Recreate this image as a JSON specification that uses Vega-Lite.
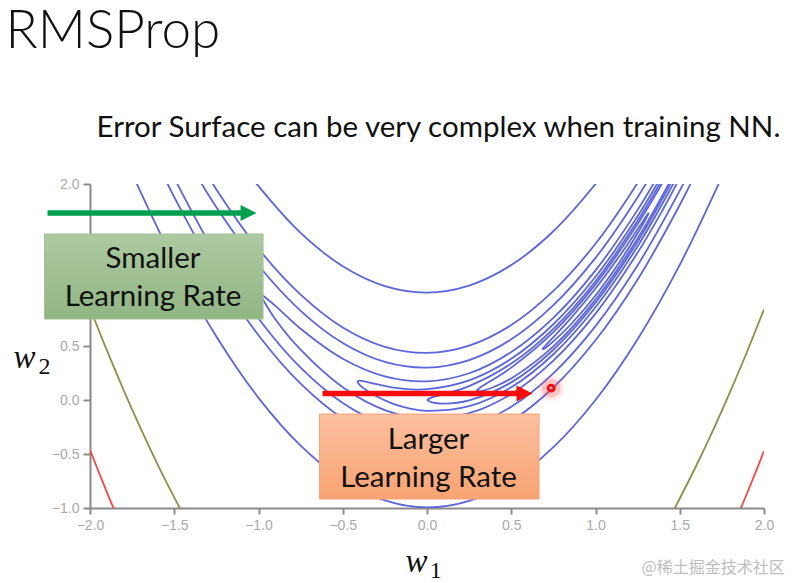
{
"$schema":"https://vega.github.io/schema/vega-lite/v6.json",
"width":674,
"height":324,
"autosize":{"type":"none"},
"padding":{"left":90,"right":33,"top":184,"bottom":75},
"background":"white",
"config":{"view":{"stroke":null}},
"layer":[
{
"data":{"values":[
{"level":100,"path":"100a","x":-1.8,"y":2.28},{"level":100,"path":"100a","x":-1.7,"y":1.927},{"level":100,"path":"100a","x":-1.5,"y":1.282},{"level":100,"path":"100a","x":-1.25,"y":0.588},{"level":100,"path":"100a","x":-1,"y":0.02},{"level":100,"path":"100a","x":-0.75,"y":-0.422},{"level":100,"path":"100a","x":-0.5,"y":-0.739},{"level":100,"path":"100a","x":-0.25,"y":-0.93},{"level":100,"path":"100a","x":0,"y":-0.995},{"level":100,"path":"100a","x":0.25,"y":-0.935},{"level":100,"path":"100a","x":0.5,"y":-0.749},{"level":100,"path":"100a","x":0.75,"y":-0.437},{"level":100,"path":"100a","x":1,"y":0},{"level":100,"path":"100a","x":1.25,"y":0.563},{"level":100,"path":"100a","x":1.5,"y":1.251},{"level":100,"path":"100a","x":1.75,"y":2.066},
{"level":100,"path":"100b","x":-1.1,"y":2.188},{"level":100,"path":"100b","x":-1,"y":1.98},{"level":100,"path":"100b","x":-0.75,"y":1.547},{"level":100,"path":"100b","x":-0.5,"y":1.239},{"level":100,"path":"100b","x":-0.25,"y":1.055},{"level":100,"path":"100b","x":0,"y":0.995},{"level":100,"path":"100b","x":0.25,"y":1.06},{"level":100,"path":"100b","x":0.5,"y":1.249},{"level":100,"path":"100b","x":0.75,"y":1.5625},{"level":100,"path":"100b","x":1,"y":2},{"level":100,"path":"100b","x":1.1,"y":2.21},
{"level":20,"path":"20a","x":-1.6,"y":2.196},{"level":20,"path":"20a","x":-1.5,"y":1.879},{"level":20,"path":"20a","x":-1.25,"y":1.176},{"level":20,"path":"20a","x":-1,"y":0.6},{"level":20,"path":"20a","x":-0.75,"y":0.151},{"level":20,"path":"20a","x":-0.5,"y":-0.171},{"level":20,"path":"20a","x":-0.25,"y":-0.367},{"level":20,"path":"20a","x":0,"y":-0.436},{"level":20,"path":"20a","x":0.25,"y":-0.378},{"level":20,"path":"20a","x":0.5,"y":-0.194},{"level":20,"path":"20a","x":0.75,"y":0.116},{"level":20,"path":"20a","x":1,"y":0.553},{"level":20,"path":"20a","x":1.25,"y":1.116},{"level":20,"path":"20a","x":1.5,"y":1.806},{"level":20,"path":"20a","x":1.6,"y":2.117},
{"level":20,"path":"20b","x":-1.4,"y":2.337},{"level":20,"path":"20b","x":-1.25,"y":1.95},{"level":20,"path":"20b","x":-1,"y":1.4},{"level":20,"path":"20b","x":-0.75,"y":0.975},{"level":20,"path":"20b","x":-0.5,"y":0.671},{"level":20,"path":"20b","x":-0.25,"y":0.492},{"level":20,"path":"20b","x":0,"y":0.436},{"level":20,"path":"20b","x":0.25,"y":0.504},{"level":20,"path":"20b","x":0.5,"y":0.694},{"level":20,"path":"20b","x":0.75,"y":1.01},{"level":20,"path":"20b","x":1,"y":1.447},{"level":20,"path":"20b","x":1.25,"y":2.01},{"level":20,"path":"20b","x":1.4,"y":2.405},
{"level":10,"path":"10a","x":-1.6,"y":2.38},{"level":10,"path":"10a","x":-1.5,"y":2.056},{"level":10,"path":"10a","x":-1.25,"y":1.34},{"level":10,"path":"10a","x":-1,"y":0.755},{"level":10,"path":"10a","x":-0.75,"y":0.299},{"level":10,"path":"10a","x":-0.5,"y":-0.028},{"level":10,"path":"10a","x":-0.25,"y":-0.228},{"level":10,"path":"10a","x":0,"y":-0.3},{"level":10,"path":"10a","x":0.25,"y":-0.245},{"level":10,"path":"10a","x":0.5,"y":-0.062},{"level":10,"path":"10a","x":0.75,"y":0.247},{"level":10,"path":"10a","x":1,"y":0.684},{"level":10,"path":"10a","x":1.25,"y":1.247},{"level":10,"path":"10a","x":1.5,"y":1.938},{"level":10,"path":"10a","x":1.6,"y":2.25},
{"level":10,"path":"10b","x":-1.4,"y":2.166},{"level":10,"path":"10b","x":-1.25,"y":1.785},{"level":10,"path":"10b","x":-1,"y":1.245},{"level":10,"path":"10b","x":-0.75,"y":0.826},{"level":10,"path":"10b","x":-0.5,"y":0.528},{"level":10,"path":"10b","x":-0.25,"y":0.353},{"level":10,"path":"10b","x":0,"y":0.3},{"level":10,"path":"10b","x":0.25,"y":0.37},{"level":10,"path":"10b","x":0.5,"y":0.562},{"level":10,"path":"10b","x":0.75,"y":0.878},{"level":10,"path":"10b","x":1,"y":1.316},{"level":10,"path":"10b","x":1.25,"y":1.878},{"level":10,"path":"10b","x":1.4,"y":2.274},
{"level":4,"path":"4b","x":1.38,"y":2.1},{"level":4,"path":"4b","x":1.25,"y":1.7605},{"level":4,"path":"4b","x":1,"y":1.2},{"level":4,"path":"4b","x":0.75,"y":0.7605},{"level":4,"path":"4b","x":0.5,"y":0.444},{"level":4,"path":"4b","x":0.25,"y":0.2475},{"level":4,"path":"4b","x":0,"y":0.173},{"level":4,"path":"4b","x":-0.25,"y":0.2185},{"level":4,"path":"4b","x":-0.5,"y":0.382},{"level":4,"path":"4b","x":-0.75,"y":0.6595},{"level":4,"path":"4b","x":-0.9,"y":0.872},{"level":4,"path":"4b","x":-1,"y":1},
{"level":4,"path":"4a","x":-1,"y":1},{"level":4,"path":"4a","x":-0.9,"y":0.748},{"level":4,"path":"4a","x":-0.75,"y":0.4655},{"level":4,"path":"4a","x":-0.5,"y":0.118},{"level":4,"path":"4a","x":-0.25,"y":-0.0935},{"level":4,"path":"4a","x":0,"y":-0.173},{"level":4,"path":"4a","x":0.25,"y":-0.1225},{"level":4,"path":"4a","x":0.5,"y":0.056},{"level":4,"path":"4a","x":0.75,"y":0.3645},{"level":4,"path":"4a","x":1,"y":0.8},{"level":4,"path":"4a","x":1.25,"y":1.3645},{"level":4,"path":"4a","x":1.4,"y":1.764},{"level":4,"path":"4a","x":1.5,"y":2.056},
{"level":2,"path":"2b","x":1.4,"y":2.096},{"level":2,"path":"2b","x":1.25,"y":1.7015},{"level":2,"path":"2b","x":1,"y":1.141},{"level":2,"path":"2b","x":0.75,"y":0.7015},{"level":2,"path":"2b","x":0.5,"y":0.382},{"level":2,"path":"2b","x":0.25,"y":0.1825},{"level":2,"path":"2b","x":0,"y":0.1},{"level":2,"path":"2b","x":-0.1,"y":0.099},{"level":2,"path":"2b","x":-0.2,"y":0.115},{"level":2,"path":"2b","x":-0.3,"y":0.146},{"level":2,"path":"2b","x":-0.4,"y":0.18},{"level":2,"path":"2b","x":-0.414,"y":0.1716},
{"level":2,"path":"2a","x":-0.414,"y":0.1716},{"level":2,"path":"2a","x":-0.4,"y":0.14},{"level":2,"path":"2a","x":-0.3,"y":0.034},{"level":2,"path":"2a","x":-0.2,"y":-0.035},{"level":2,"path":"2a","x":-0.1,"y":-0.079},{"level":2,"path":"2a","x":0,"y":-0.1},{"level":2,"path":"2a","x":0.25,"y":-0.0575},{"level":2,"path":"2a","x":0.5,"y":0.118},{"level":2,"path":"2a","x":0.75,"y":0.4235},{"level":2,"path":"2a","x":1,"y":0.859},{"level":2,"path":"2a","x":1.25,"y":1.4235},{"level":2,"path":"2a","x":1.45,"y":1.9685},{"level":2,"path":"2a","x":1.5,"y":2.118},
{"level":1,"path":"1b","x":1.45,"y":2.19},{"level":1,"path":"1b","x":1.4,"y":2.052},{"level":1,"path":"1b","x":1.25,"y":1.6595},{"level":1,"path":"1b","x":1,"y":1.1},{"level":1,"path":"1b","x":0.75,"y":0.6595},{"level":1,"path":"1b","x":0.5,"y":0.337},{"level":1,"path":"1b","x":0.25,"y":0.1285},{"level":1,"path":"1b","x":0.1,"y":0.054},{"level":1,"path":"1b","x":0.03,"y":0.0249},{"level":1,"path":"1b","x":0,"y":0},
{"level":1,"path":"1a","x":0,"y":0},{"level":1,"path":"1a","x":0.03,"y":-0.023},{"level":1,"path":"1a","x":0.1,"y":-0.034},{"level":1,"path":"1a","x":0.25,"y":-0.0035},{"level":1,"path":"1a","x":0.5,"y":0.163},{"level":1,"path":"1a","x":0.75,"y":0.4655},{"level":1,"path":"1a","x":1,"y":0.9},{"level":1,"path":"1a","x":1.25,"y":1.4655},{"level":1,"path":"1a","x":1.45,"y":2.0135},
{"level":0.5,"path":"0.5b","x":1.45,"y":2.1575},{"level":0.5,"path":"0.5b","x":1.4,"y":2.018},{"level":0.5,"path":"0.5b","x":1.25,"y":1.6285},{"level":0.5,"path":"0.5b","x":1,"y":1.071},{"level":0.5,"path":"0.5b","x":0.75,"y":0.6285},{"level":0.5,"path":"0.5b","x":0.5,"y":0.3},{"level":0.5,"path":"0.5b","x":0.4,"y":0.197},{"level":0.5,"path":"0.5b","x":0.32,"y":0.121},{"level":0.5,"path":"0.5b","x":0.293,"y":0.0858},
{"level":0.5,"path":"0.5a","x":0.293,"y":0.0858},{"level":0.5,"path":"0.5a","x":0.32,"y":0.083},{"level":0.5,"path":"0.5a","x":0.4,"y":0.123},{"level":0.5,"path":"0.5a","x":0.5,"y":0.2},{"level":0.5,"path":"0.5a","x":0.75,"y":0.4965},{"level":0.5,"path":"0.5a","x":1,"y":0.929},{"level":0.5,"path":"0.5a","x":1.25,"y":1.4965},{"level":0.5,"path":"0.5a","x":1.4,"y":1.902},{"level":0.5,"path":"0.5a","x":1.45,"y":2.0475},
{"level":0.1,"path":"0.1b","x":0.684,"y":0.468},{"level":0.1,"path":"0.1b","x":0.7,"y":0.5},{"level":0.1,"path":"0.1b","x":0.75,"y":0.5815},{"level":0.1,"path":"0.1b","x":0.85,"y":0.7505},{"level":0.1,"path":"0.1b","x":1,"y":1.032},{"level":0.1,"path":"0.1b","x":1.15,"y":1.3505},{"level":0.1,"path":"0.1b","x":1.25,"y":1.5815},{"level":0.1,"path":"0.1b","x":1.3,"y":1.7},{"level":0.1,"path":"0.1b","x":1.316,"y":1.732},
{"level":0.1,"path":"0.1a","x":1.316,"y":1.732},{"level":0.1,"path":"0.1a","x":1.3,"y":1.68},{"level":0.1,"path":"0.1a","x":1.25,"y":1.5435},{"level":0.1,"path":"0.1a","x":1.15,"y":1.2945},{"level":0.1,"path":"0.1a","x":1,"y":0.968},{"level":0.1,"path":"0.1a","x":0.85,"y":0.6945},{"level":0.1,"path":"0.1a","x":0.75,"y":0.5435},{"level":0.1,"path":"0.1a","x":0.7,"y":0.48},{"level":0.1,"path":"0.1a","x":0.684,"y":0.468},
{"level":1000,"path":"1000a","x":-2,"y":0.852},{"level":1000,"path":"1000a","x":-1.9,"y":0.461},{"level":1000,"path":"1000a","x":-1.8,"y":0.09},{"level":1000,"path":"1000a","x":-1.7,"y":-0.261},{"level":1000,"path":"1000a","x":-1.6,"y":-0.593},{"level":1000,"path":"1000a","x":-1.5,"y":-0.902},{"level":1000,"path":"1000a","x":-1.45,"y":-1.05},
{"level":1000,"path":"1000b","x":1.45,"y":-1.06},{"level":1000,"path":"1000b","x":1.5,"y":-0.912},{"level":1000,"path":"1000b","x":1.6,"y":-0.602},{"level":1000,"path":"1000b","x":1.7,"y":-0.272},{"level":1000,"path":"1000b","x":1.8,"y":0.079},{"level":1000,"path":"1000b","x":1.9,"y":0.449},{"level":1000,"path":"1000b","x":2,"y":0.839},
{"level":2000,"path":"2000a","x":-2,"y":-0.462},{"level":2000,"path":"2000a","x":-1.95,"y":-0.66},{"level":2000,"path":"2000a","x":-1.9,"y":-0.853},{"level":2000,"path":"2000a","x":-1.85,"y":-1.04},
{"level":2000,"path":"2000b","x":1.85,"y":-1.049},{"level":2000,"path":"2000b","x":1.9,"y":-0.861},{"level":2000,"path":"2000b","x":1.95,"y":-0.67},{"level":2000,"path":"2000b","x":2,"y":-0.472}
]},
"mark":{"type":"line","clip":true,"strokeWidth":1.8,"interpolate":"catmull-rom"},
"encoding":{
"x":{"field":"x","type":"quantitative","scale":{"domain":[-2,2],"nice":false,"zero":false},
"axis":{"title":null,"values":[-2,-1.5,-1,-0.5,0,0.5,1,1.5,2],"format":".1f","grid":false,"domainColor":"#8a8a8a","domainWidth":2,"tickColor":"#8a8a8a","tickWidth":2,"tickSize":6,"labelColor":"#a9a9a9","labelFontSize":14,"labelFont":"Liberation Sans","labelPadding":4,"labelFlush":false}},
"y":{"field":"y","type":"quantitative","scale":{"domain":[-1,2],"nice":false,"zero":false},
"axis":{"title":null,"values":[-1,-0.5,0,0.5,2],"format":".1f","grid":false,"domainColor":"#8a8a8a","domainWidth":2,"tickColor":"#8a8a8a","tickWidth":2,"tickSize":7,"labelColor":"#a9a9a9","labelFontSize":14,"labelFont":"Liberation Sans","labelPadding":4}},
"detail":{"field":"path"},
"color":{"field":"level","type":"quantitative","legend":null,"scale":{"type":"threshold","domain":[500,1500],"range":["#5c66da","#8f8f48","#ef4a42"]}}
}
},
{
"data":{"values":[{"x":-2.27,"x2":-0.973,"y":1.537,"y2":0.75}]},
"mark":{"type":"rect","stroke":"#a3bf94","strokeWidth":1,"fill":{"gradient":"linear","x1":0,"y1":0,"x2":0,"y2":1,"stops":[{"offset":0,"color":"#aecaa2"},{"offset":1,"color":"#90b583"}]}},
"encoding":{"x":{"field":"x","type":"quantitative"},"x2":{"field":"x2"},"y":{"field":"y","type":"quantitative"},"y2":{"field":"y2"}}
},
{
"data":{"values":[{"x":-0.638,"x2":0.665,"y":-0.13,"y2":-0.917}]},
"mark":{"type":"rect","stroke":"#f3a67c","strokeWidth":1,"fill":{"gradient":"linear","x1":0,"y1":0,"x2":0,"y2":1,"stops":[{"offset":0,"color":"#fbbf9f"},{"offset":1,"color":"#f9a372"}]}},
"encoding":{"x":{"field":"x","type":"quantitative"},"x2":{"field":"x2"},"y":{"field":"y","type":"quantitative"},"y2":{"field":"y2"}}
},
{
"data":{"values":[{"arrow":"green","x":-2.252,"x2":-1.08,"y":1.731},{"arrow":"red","x":-0.62,"x2":0.56,"y":0.06}]},
"mark":{"type":"rule","strokeWidth":5.5},
"encoding":{"x":{"field":"x","type":"quantitative"},"x2":{"field":"x2"},"y":{"field":"y","type":"quantitative"},
"color":{"field":"arrow","type":"nominal","legend":null,"scale":{"domain":["green","red"],"range":["#00a050","#fa0c0c"]}}}
},
{
"data":{"values":[{"arrow":"green","x":-1.059,"y":1.731},{"arrow":"red","x":0.579,"y":0.06}]},
"mark":{"type":"point","filled":true,"opacity":1,"shape":"M-1,-1L1,0L-1,1Z","size":256},
"encoding":{"x":{"field":"x","type":"quantitative"},"y":{"field":"y","type":"quantitative"},
"color":{"field":"arrow","type":"nominal","legend":null,"scale":{"domain":["green","red"],"range":["#00a050","#fa0c0c"]}}}
},
{
"data":{"name":"marker","values":[{"x":0.737,"y":0.11}]},
"mark":{"type":"circle","size":640,"color":"#ff5050","opacity":0.12},
"encoding":{"x":{"field":"x","type":"quantitative"},"y":{"field":"y","type":"quantitative"}}
},
{
"data":{"name":"marker"},
"mark":{"type":"circle","size":360,"color":"#ff5050","opacity":0.25},
"encoding":{"x":{"field":"x","type":"quantitative"},"y":{"field":"y","type":"quantitative"}}
},
{
"data":{"name":"marker"},
"mark":{"type":"point","size":38,"filled":false,"stroke":"#f01010","strokeWidth":2.8,"opacity":1},
"encoding":{"x":{"field":"x","type":"quantitative"},"y":{"field":"y","type":"quantitative"}}
},
{
"data":{"values":[{"t":"RMSProp","x":-2.501,"y":3.26}]},
"mark":{"type":"text","font":"Lato","fontWeight":300,"fontSize":53,"color":"#111111","align":"left","baseline":"alphabetic"},
"encoding":{"x":{"field":"x","type":"quantitative"},"y":{"field":"y","type":"quantitative"},"text":{"field":"t"}}
},
{
"data":{"values":[{"t":"Smaller","x":-1.626,"y":1.31},{"t":"Learning Rate","x":-1.626,"y":0.958},{"t":"Larger","x":0.009,"y":-0.367},{"t":"Learning Rate","x":0.009,"y":-0.719}]},
"mark":{"type":"text","font":"Lato","fontSize":29.5,"color":"#111111","align":"center","baseline":"middle"},
"encoding":{"x":{"field":"x","type":"quantitative"},"y":{"field":"y","type":"quantitative"},"text":{"field":"t"}}
},
{
"data":{"values":[{"t":"Error Surface can be very complex when training NN.","x":-1.961,"y":2.519}]},
"mark":{"type":"text","font":"Lato","fontSize":29.5,"color":"#111111","align":"left","baseline":"middle"},
"encoding":{"x":{"field":"x","type":"quantitative"},"y":{"field":"y","type":"quantitative"},"text":{"field":"t"}}
},
{
"data":{"values":[{"t":"w","x":-2.454,"y":0.296},{"t":"w","x":-0.128,"y":-1.593}]},
"mark":{"type":"text","font":"Liberation Serif","fontStyle":"italic","fontSize":33,"color":"#111111","align":"left","baseline":"alphabetic"},
"encoding":{"x":{"field":"x","type":"quantitative"},"y":{"field":"y","type":"quantitative"},"text":{"field":"t"}}
},
{
"data":{"values":[{"t":"2","x":-2.305,"y":0.24},{"t":"1","x":0.016,"y":-1.648}]},
"mark":{"type":"text","font":"Liberation Serif","fontSize":24,"color":"#111111","align":"left","baseline":"alphabetic"},
"encoding":{"x":{"field":"x","type":"quantitative"},"y":{"field":"y","type":"quantitative"},"text":{"field":"t"}}
},
{
"data":{"values":[{"t":"@稀土掘金技术社区","x":1.273,"y":-1.556}]},
"mark":{"type":"text","font":"Noto Sans CJK SC","fontSize":16,"color":"#bdbdbd","align":"left","baseline":"middle"},
"encoding":{"x":{"field":"x","type":"quantitative"},"y":{"field":"y","type":"quantitative"},"text":{"field":"t"}}
}
]
}
